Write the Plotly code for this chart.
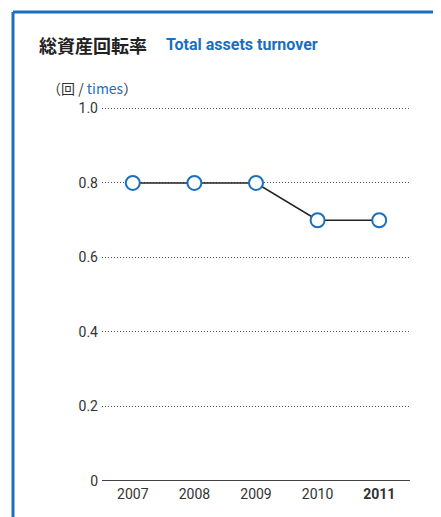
import plotly.graph_objects as go

years = ["2007", "2008", "2009", "2010", "2011"]
tick_text = ["2007", "2008", "2009", "2010", "<b>2011</b>"]
turnover = [0.8, 0.8, 0.8, 0.7, 0.7]
y_ticks = [0, 0.2, 0.4, 0.6, 0.8, 1.0]
y_tick_text = ["0", "0.2", "0.4", "0.6", "0.8", "1.0"]

BLUE = "#1a6fbf"
TXT = "#333333"
FONT = "Roboto, sans-serif"
CJK = "'Noto Sans CJK JP'"

# plot area in figure coords (page offset by 8px body margin)
W, H = 433, 509
YMAX = 1.02
L, R, B = 94, 31, 36
PH = round(373 * YMAX)
T = H - B - PH
PW = W - L - R

def px(x):  # figure x pixel -> paper
    return (x - L) / PW

def py(y):  # figure y pixel (from top) -> paper
    return (H - B - y) / PH

fig = go.Figure()
fig.add_trace(go.Scatter(
    x=years, y=turnover, mode="lines+markers",
    line=dict(color="#222222", width=1.6),
    marker=dict(size=14, color="white", line=dict(color=BLUE, width=2)),
    cliponaxis=False, hoverinfo="skip",
))

fig.update_layout(
    width=W, height=H,
    margin=dict(l=L, r=R, t=T, b=B),
    paper_bgcolor="white", plot_bgcolor="white",
    showlegend=False,
    font=dict(family=FONT, size=14, color=TXT),
    xaxis=dict(
        type="category", range=[-0.5, 4.5],
        tickvals=years, ticktext=tick_text,
        showgrid=False, zeroline=False, showline=False,
        ticks="", tickfont=dict(size=14, color=TXT), ticklabelstandoff=3,
    ),
    yaxis=dict(
        range=[0, YMAX], tickvals=y_ticks, ticktext=y_tick_text,
        showgrid=True, gridcolor="#555555", griddash="1px,2px", gridwidth=1,
        zeroline=False, showline=False, ticks="",
        tickfont=dict(size=14, color=TXT), ticklabelstandoff=3,
    ),
    shapes=[
        # frame lines
        dict(type="line", xref="paper", yref="paper", x0=px(5), x1=px(440),
             y0=py(4), y1=py(4), line=dict(color=BLUE, width=3)),
        dict(type="line", xref="paper", yref="paper", x0=px(5), x1=px(5),
             y0=py(4), y1=py(520), line=dict(color=BLUE, width=3)),
        # baseline
        dict(type="line", xref="paper", yref="y", x0=0, x1=1, y0=0, y1=0,
             line=dict(color="#444444", width=2)),
    ],
    annotations=[
        dict(xref="paper", yref="paper", x=px(29), y=py(37), xanchor="left", yanchor="middle",
             text="<b>総資産回転率</b>", showarrow=False,
             font=dict(family=CJK, size=18, color="#222222")),
        dict(xref="paper", yref="paper", x=px(156), y=py(37), xanchor="left", yanchor="middle",
             text="<b>Total assets turnover</b>", showarrow=False,
             font=dict(family=FONT, size=16, color=BLUE)),
        dict(xref="paper", yref="paper", x=px(37), y=py(80), xanchor="left", yanchor="middle",
             text="（回 / <span style='color:#1a6fbf'>times</span>）",
             showarrow=False,
             font=dict(family=CJK, size=14, color=TXT)),
    ],
)

fig.write_html("out.html")
